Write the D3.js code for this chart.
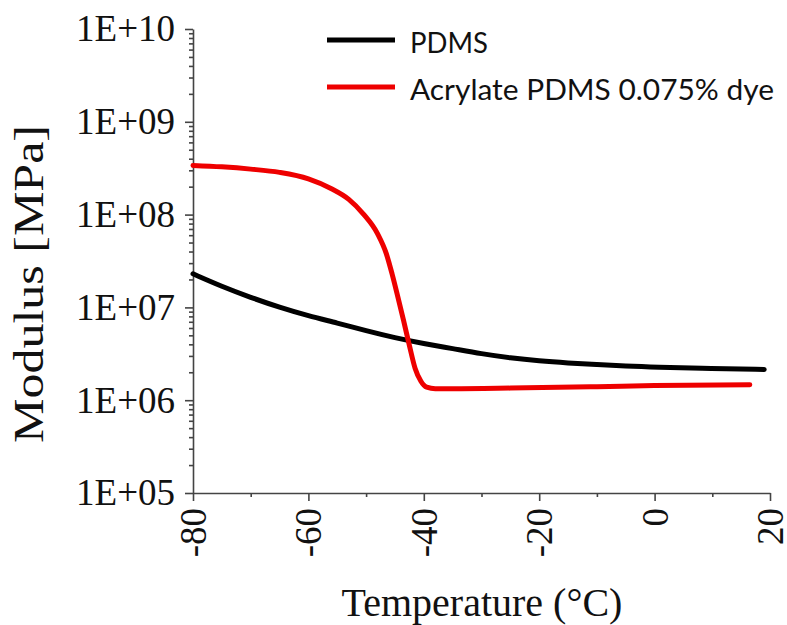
<!DOCTYPE html>
<html>
<head>
<meta charset="utf-8">
<script src="https://cdn.jsdelivr.net/npm/d3@7"></script>
<style>
  body { margin: 0; background: #fff; }
  svg { display: block; }
  .serif { font-family: "Liberation Serif", "Times New Roman", Times, serif; }
</style>
</head>
<body>
<div id="chart"></div>
<script>
// PDMS (black)
const pdmsTemp = [-80, -75, -70, -65, -60, -55, -50, -45, -40, -35, -30, -25, -20, -15, -10, -5, 0, 10, 19]
const pdmsModulus = [2.3e7, 1.68e7, 1.28e7, 1.0e7, 8.1e6, 6.8e6, 5.6e6, 4.7e6, 4.07e6, 3.6e6, 3.16e6, 2.85e6, 2.65e6, 2.52e6, 2.42e6, 2.33e6, 2.27e6, 2.2e6, 2.14e6]

// Acrylate PDMS 0.075% dye (red)
const acrTemp = [-80, -75, -70, -65, -60, -56, -53, -50.5, -48, -46.5, -45.5, -44.5, -43.5, -42.5, -41.5, -40.5, -39.5, -38, -35, -25, -10, 0, 16.5]
const acrModulus = [3.39e8, 3.27e8, 3.09e8, 2.85e8, 2.43e8, 1.9e8, 1.46e8, 1.02e8, 6.2e7, 3.8e7, 2.3e7, 1.3e7, 7.2e6, 3.9e6, 2.2e6, 1.6e6, 1.38e6, 1.33e6, 1.33e6, 1.35e6, 1.4e6, 1.44e6, 1.47e6]

const xTicks = [-80, -60, -40, -20, 0, 20]
const xMinorTicks = [-70, -50, -30, -10, 10]
const yTicks = [1e5, 1e6, 1e7, 1e8, 1e9, 1e10]

const seriesNames = ['PDMS', 'Acrylate PDMS 0.075% dye']
const seriesColors = ['#000000', '#ee0000']

const width = 787
const height = 625
const margin = { top: 29, right: 17, bottom: 132, left: 193 }

const x = d3.scaleLinear().domain([-80, 20]).range([margin.left, width - margin.right])
const y = d3.scaleLog().domain([1e5, 1e10]).range([height - margin.bottom, margin.top])

const svg = d3
    .select('#chart')
    .append('svg')
    .attr('width', width)
    .attr('height', height)

const axisColor = '#444'

// minor y ticks (2..9 per decade)
const yMinor = []
for (let e = 5; e < 10; e += 1) {
    for (let m = 2; m <= 9; m += 1) yMinor.push(m * Math.pow(10, e))
}

const yMinorAxis = svg
    .append('g')
    .attr('transform', `translate(${margin.left},0)`)
    .call(d3.axisLeft(y).tickValues(yMinor).tickSize(4).tickFormat(''))
yMinorAxis.select('.domain').remove()

const yAxis = svg
    .append('g')
    .attr('transform', `translate(${margin.left},0)`)
    .call(
        d3
            .axisLeft(y)
            .tickValues(yTicks)
            .tickSize(8)
            .tickSizeOuter(0)
            .tickPadding(10)
            .tickFormat((d) => '1E+' + String(Math.round(Math.log10(d))).padStart(2, '0'))
    )

const xMinorAxis = svg
    .append('g')
    .attr('transform', `translate(0,${height - margin.bottom})`)
    .call(d3.axisBottom(x).tickValues(xMinorTicks).tickSize(4).tickFormat(''))
xMinorAxis.select('.domain').remove()

const xAxis = svg
    .append('g')
    .attr('transform', `translate(0,${height - margin.bottom})`)
    .call(d3.axisBottom(x).tickValues(xTicks).tickSize(8).tickSizeOuter(0).tickFormat((d) => d))

svg.selectAll('.domain, .tick line')
    .attr('stroke', axisColor)
    .attr('stroke-width', 1.6)

yAxis.attr('font-family', null)
xAxis.attr('font-family', null)

yAxis
    .selectAll('.tick text')
    .attr('class', 'serif')
    .attr('font-size', 37)
    .attr('fill', '#111')

xAxis
    .selectAll('.tick text')
    .attr('class', 'serif')
    .attr('font-size', 37)
    .attr('fill', '#111')
    .attr('text-anchor', 'end')
    .attr('y', 0)
    .attr('dy', '0.34em')
    .attr('transform', 'translate(0,15) rotate(-90)')

// axis titles
svg.append('text')
    .attr('class', 'serif')
    .attr('transform', 'translate(43,284) rotate(-90)')
    .attr('text-anchor', 'middle')
    .attr('font-size', 43)
    .attr('fill', '#111')
    .attr('textLength', 318)
    .attr('lengthAdjust', 'spacingAndGlyphs')
    .text('Modulus [MPa]')

svg.append('text')
    .attr('class', 'serif')
    .attr('x', 482)
    .attr('y', 616)
    .attr('text-anchor', 'middle')
    .attr('font-size', 40)
    .attr('fill', '#111')
    .text('Temperature (°C)')

// curves
const curves = [d3.curveBasis, d3.curveMonotoneX]
const series = [
    d3.zip(pdmsTemp, pdmsModulus),
    d3.zip(acrTemp, acrModulus),
]

svg.selectAll('.curve')
    .data(series)
    .enter()
    .append('path')
    .attr('class', 'curve')
    .attr('d', (d, i) =>
        d3
            .line()
            .x((p) => x(p[0]))
            .y((p) => y(p[1]))
            .curve(curves[i])(d)
    )
    .attr('fill', 'none')
    .attr('stroke', (d, i) => seriesColors[i])
    .attr('stroke-width', 5)
    .attr('stroke-linejoin', 'round')
    .attr('stroke-linecap', 'round')

// legend
const legend = svg.append('g').attr('transform', 'translate(327,40)')
const legendItems = legend
    .selectAll('g')
    .data(seriesNames)
    .enter()
    .append('g')
    .attr('transform', (d, i) => `translate(0,${i * 47})`)

legendItems
    .append('line')
    .attr('x1', 0)
    .attr('x2', 68)
    .attr('stroke', (d, i) => seriesColors[i])
    .attr('stroke-width', 5)

legendItems
    .append('text')
    .attr('x', 83)
    .attr('y', 13)
    .style('font-family', "Lato, 'Open Sans', sans-serif")
    .attr('font-size', 29)
    .attr('fill', '#111')
    .attr('textLength', (d, i) => (i === 0 ? 78 : 364))
    .attr('lengthAdjust', 'spacingAndGlyphs')
    .text((d) => d)
</script>
</body>
</html>
